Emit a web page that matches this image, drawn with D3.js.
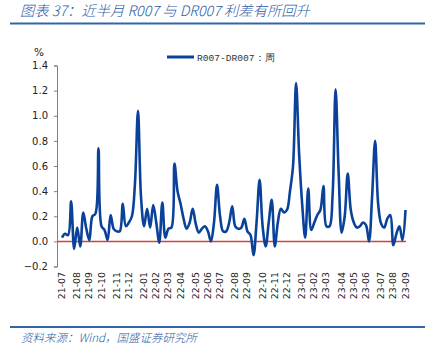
<!DOCTYPE html>
<html><head><meta charset="utf-8">
<script src="https://cdn.jsdelivr.net/npm/d3@7"></script>
<style>
body{margin:0;background:#fff;}
svg{display:block;}
</style></head>
<body>
<svg id="c" width="436" height="356"></svg>
<script>
// ---------- data ----------
const title = "图表 37：近半月 R007 与 DR007 利差有所回升";
const source = "资料来源：Wind，国盛证券研究所";
const seriesName = "R007-DR007：周";
const startDate = "2021-07-02"; // first weekly observation
const values = [
  0.03, 0.06, 0.05, 0.32, -0.06, 0.11, -0.04, 0.23, 0.10, 0.01,
  0.20, 0.22, 0.74, 0.12, 0.09, 0.01, 0.21, 0.10, 0.08, 0.08,
  0.30, 0.12, 0.15, 0.20, 0.46, 1.04, 0.35, 0.12, 0.26, 0.11,
  0.29, 0.15, -0.01, 0.31, 0.03, 0.10, 0.11, 0.62, 0.40, 0.30,
  0.18, 0.10, 0.15, 0.26, 0.14, 0.07, 0.10, 0.12, 0.08, 0.00,
  0.15, 0.45, 0.20, 0.08, 0.08, 0.15, 0.28, 0.12, 0.10, 0.11,
  0.18, 0.08, 0.05, -0.11, 0.15, 0.49, 0.12, -0.04, 0.15, 0.33,
  -0.04, 0.15, 0.26, 0.23, 0.25, 0.40, 0.60, 1.26, 0.70, 0.30,
  0.03, 0.42, 0.09, 0.15, 0.21, 0.25, 0.44, 0.12, 0.12, 0.36,
  1.21, 0.55, 0.07, 0.20, 0.54, 0.25, 0.15, 0.11, 0.12, 0.15,
  0.13, 0.00, 0.35, 0.80, 0.30, 0.14, 0.11, 0.18, 0.21, -0.03,
  0.06, 0.12, 0.01, 0.25
];
const xTickLabels = ["21-07","21-08","21-09","21-10","21-11","21-12","22-01","22-02","22-03","22-04","22-05","22-06","22-07","22-08","22-09","22-10","22-11","22-12","23-01","23-02","23-03","23-04","23-05","23-06","23-07","23-08","23-09"];
const yTicks = [-0.2, 0, 0.2, 0.4, 0.6, 0.8, 1.0, 1.2, 1.4];

// ---------- build ----------
const parse = d3.timeParse("%Y-%m-%d");
const fmtMonth = d3.timeFormat("%y-%m");
const t0 = parse(startDate);
const data = values.map((v, i) => ({date: d3.timeWeek.offset(t0, i), v}));

const svg = d3.select("#c");

// title
svg.append("text").attr("x", 20).attr("y", 16)
  .attr("font-family", "'Noto Sans CJK SC', sans-serif")
  .attr("font-style", "italic").attr("font-size", 14.3).attr("font-weight", 300)
  .attr("fill", "#2b5ca6").text(title);
svg.append("line").attr("x1", 10).attr("x2", 425).attr("y1", 23.5).attr("y2", 23.5)
  .attr("stroke", "#3464a8").attr("stroke-width", 2);

// bottom rule + source
svg.append("line").attr("x1", 10).attr("x2", 425).attr("y1", 327).attr("y2", 327)
  .attr("stroke", "#3464a8").attr("stroke-width", 2);
svg.append("text").attr("x", 21).attr("y", 342)
  .attr("font-family", "'Noto Sans CJK SC', sans-serif")
  .attr("font-style", "italic").attr("font-size", 11.5).attr("font-weight", 300)
  .attr("fill", "#2b5ca6").text(source);

// scales
const x = d3.scaleTime()
  .domain([data[0].date, data[data.length - 1].date])
  .range([62, 405.5]);
const y = d3.scaleLinear().domain([-0.2, 1.4]).range([266.5, 65.5]);

// y axis
const yAxis = svg.append("g").attr("transform", "translate(57,0)")
  .call(d3.axisLeft(y).tickValues(yTicks).tickSize(3).tickPadding(6)
    .tickFormat(d3.format(".1f")));
yAxis.select(".domain").attr("stroke", "#808080");
yAxis.selectAll(".tick line").attr("stroke", "#808080");
yAxis.selectAll("text").attr("font-family", "'DejaVu Sans', sans-serif")
  .attr("font-size", 10).attr("fill", "#222");

svg.append("text").attr("x", 34).attr("y", 56)
  .attr("font-family", "'DejaVu Sans', sans-serif").attr("font-size", 10.5)
  .attr("fill", "#222").text("%");

// x tick labels at first week of each month
const firstOfMonth = xTickLabels.map(lab => data.find(d => fmtMonth(d.date) === lab));
const xg = svg.append("g");
xg.selectAll("text").data(xTickLabels).join("text")
  .attr("transform", (lab, i) => `translate(${x(firstOfMonth[i].date) + 3},272) rotate(-90)`)
  .attr("text-anchor", "end")
  .attr("font-family", "'DejaVu Sans', sans-serif").attr("font-size", 9.4)
  .attr("fill", "#222").text(d => d);

// zero line
svg.append("line").attr("x1", 57).attr("x2", 406)
  .attr("y1", y(0)).attr("y2", y(0))
  .attr("stroke", "#d8403a").attr("stroke-width", 1.5);

// series line
const line = d3.line().x(d => x(d.date)).y(d => y(d.v)).curve(d3.curveCatmullRom.alpha(0.5));
svg.append("path").datum(data).attr("d", line)
  .attr("fill", "none").attr("stroke", "#0a4299").attr("stroke-width", 2.6)
  .attr("stroke-linejoin", "round");

// legend
svg.append("line").attr("x1", 167).attr("x2", 194).attr("y1", 57).attr("y2", 57)
  .attr("stroke", "#0a4299").attr("stroke-width", 3);
svg.append("text").attr("x", 197).attr("y", 60.5)
  .attr("font-family", "'Liberation Mono', monospace").attr("font-size", 9.6)
  .attr("fill", "#333").text(seriesName);
</script>
</body></html>
